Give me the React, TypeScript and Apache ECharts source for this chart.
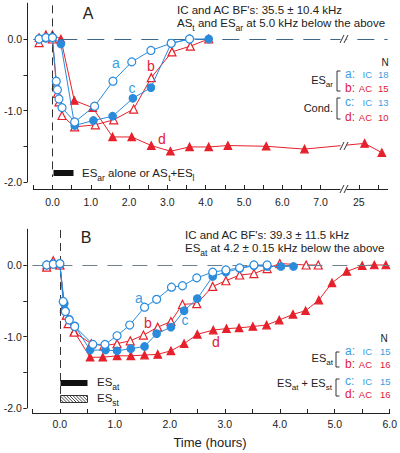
import React, { useEffect, useRef } from "react";
import * as echarts from "echarts";

const FONT = '"Liberation Sans", Arial, sans-serif';
const BLUE = "#2a8bdc";
const RED = "#e6212b";
const BLUE_T = "#3a9de2";
const RED_T = "#e0203a";
const INK = "#222";

// ---------- Panel A (hours; values 25.x are after the axis break) ----------
const aA_t = [-0.35, -0.17, 0, 0.1, 0.13, 0.17, 0.25, 0.58, 1.1, 1.58, 2.07, 2.57, 3.1, 3.58];
const aA_v = [0, 0.02, 0.02, -0.59, -0.71, -0.84, -0.96, -1.16, -0.94, -0.59, -0.32, -0.16, -0.06, 0];
const bA_t = [-0.35, -0.17, 0, 0.1, 0.13, 0.17, 0.25, 0.58, 1.12, 1.6, 2.12, 2.58, 3.12, 3.6, 4.08];
const bA_v = [-0.05, 0.03, 0, -0.64, -0.76, -0.88, -1.07, -1.23, -1.2, -1.13, -0.98, -0.54, -0.18, -0.1, 0];
const cA_t = [-0.35, -0.17, 0, 0.22, 0.58, 1.07, 1.57, 2.1, 2.57, 3.1, 3.58, 4.08];
const cA_v = [0, 0.01, 0.02, -0.07, -1.21, -1.14, -1.08, -0.83, -0.68, -0.06, 0, 0];
const dA_t = [-0.35, -0.17, 0, 0.22, 0.57, 1.05, 1.57, 2.07, 2.58, 3.08, 3.58, 4.08, 4.58, 5.58, 6.58, 25.3, 26.2];
const dA_v = [0.02, 0.06, 0.06, 0, -0.86, -0.96, -1.37, -1.37, -1.49, -1.57, -1.51, -1.51, -1.49, -1.5, -1.54, -1.46, -1.59];

// ---------- Panel B ----------
const aB_t = [-0.24, -0.12, 0, 0.06, 0.1, 0.17, 0.27, 0.6, 0.82, 1.04, 1.27, 1.54, 1.76, 2.03, 2.23, 2.49, 2.78, 3.02, 3.27, 3.53, 3.77];
const aB_v = [0, 0.01, 0.02, -0.51, -0.65, -0.77, -0.86, -1.11, -1.11, -0.99, -0.84, -0.59, -0.48, -0.31, -0.29, -0.18, -0.1, -0.07, -0.04, 0, 0];
const bB_t = [-0.24, -0.12, 0, 0.08, 0.12, 0.15, 0.26, 0.57, 0.8, 1.04, 1.28, 1.52, 1.78, 2.02, 2.23, 2.49, 2.78, 3.02, 3.27, 3.53, 3.77, 4.0, 4.48, 4.7];
const bB_v = [-0.03, 0.06, 0, -0.6, -0.7, -0.82, -0.94, -1.1, -1.13, -1.1, -1.06, -0.98, -0.87, -0.79, -0.55, -0.54, -0.3, -0.22, -0.14, -0.12, -0.05, 0.02, 0, 0];
const cB_t = [-0.24, -0.12, 0, 0.08, 0.1, 0.17, 0.27, 0.55, 0.83, 1.04, 1.29, 1.54, 1.76, 2.02, 2.26, 2.5, 2.78, 3.02, 3.27, 3.53, 3.77, 4.02, 4.25];
const cB_v = [0, 0.02, 0.01, -0.54, -0.64, -0.76, -0.85, -1.19, -1.19, -1.2, -1.17, -1.14, -0.96, -0.87, -0.64, -0.47, -0.16, -0.1, -0.05, -0.01, -0.02, -0.02, -0.02];
const dB_t = [-0.24, -0.12, 0, 0.08, 0.12, 0.17, 0.26, 0.55, 0.78, 1.04, 1.29, 1.54, 1.78, 2.02, 2.26, 2.5, 2.79, 3.03, 3.26, 3.51, 3.76, 3.99, 4.24, 4.47, 4.71, 4.95, 5.22, 5.5, 5.72, 5.93];
const dB_v = [0, 0.04, 0, -0.58, -0.7, -0.82, -0.93, -1.29, -1.29, -1.27, -1.27, -1.26, -1.25, -1.2, -1.1, -0.97, -0.91, -0.89, -0.88, -0.86, -0.84, -0.77, -0.69, -0.64, -0.49, -0.25, -0.09, -0.01, 0, 0];

// ---------- ticks ----------
const xTicksA = [-0.5, 0, 0.5, 1, 1.5, 2, 2.5, 3, 3.5, 4, 4.5, 5, 5.5, 6, 6.5, 7, 25, 26];
const xLabelsA = [0, 1, 2, 3, 4, 5, 6, 7, 25];
const xTicksB = [-0.5, 0, 0.5, 1, 1.5, 2, 2.5, 3, 3.5, 4, 4.5, 5, 5.5, 6];
const xLabelsB = [0, 1, 2, 3, 4, 5, 6];
const yTicks = [-2, -1.5, -1, -0.5, 0];
const yLabels = [-2, -1, 0];

// broken time axis of panel A: after 7.5 h the axis jumps to 25 h
const tA = (t: number) => (t <= 7.5 ? t : 8 + (t - 25) * 0.5);
const idt = (t: number) => t;
const zip = (ts: number[], vs: number[], f: (t: number) => number) => ts.map((t, i) => [f(t), vs[i]]);

type Part = [string, boolean];
let _ctx: CanvasRenderingContext2D | null = null;
function tw(s: string, size: number): number {
  if (!_ctx) _ctx = document.createElement("canvas").getContext("2d");
  if (!_ctx) return s.length * size * 0.55;
  _ctx.font = `${size}px ${FONT}`;
  return _ctx.measureText(s).width;
}
function run(x: number, y: number, parts: Part[], size: number, color: string, align = "left", subSize?: number): any[] {
  const ss = subSize ?? Math.round(size * 0.74 * 10) / 10;
  const widths = parts.map(([s, sub]) => tw(s, sub ? ss : size));
  const total = widths.reduce((a, b) => a + b, 0);
  let cx = align === "right" ? x - total : align === "center" ? x - total / 2 : x;
  const out: any[] = [];
  parts.forEach(([s, sub], i) => {
    const fs = sub ? ss : size;
    const lead = s.length - s.trimStart().length;
    const off = lead ? tw(" ".repeat(lead), fs) : 0;
    out.push({
      type: "text",
      x: cx + off,
      y: sub ? y + size * 0.4 : y,
      z: 50,
      silent: true,
      style: { text: s.trim(), fontSize: fs, fontFamily: FONT, fill: color, align: "left", verticalAlign: "middle" },
    });
    cx += widths[i];
  });
  return out;
}
const bracket = (x: number, y1: number, y2: number) => ({
  type: "polyline",
  z: 50,
  silent: true,
  shape: { points: [[x + 3.5, y1], [x, y1], [x, y2], [x + 3.5, y2]] },
  style: { stroke: "#333", lineWidth: 1, fill: null },
});
function legendRow(y: number, letter: string, src: string, n: string, color: string, srcRight: number, nx: number) {
  return [
    ...run(345, y, [[letter + ":", false]], 12, color),
    ...run(srcRight, y, [[src, false]], 9.5, color, "right"),
    ...run(nx, y, [[n, false]], 9.5, color),
  ];
}
function breakMark(x: number, y: number) {
  return [
    { type: "rect", z: 60, silent: true, shape: { x: x - 2.5, y: y - 2, width: 6, height: 4 }, style: { fill: "#fff" } },
    { type: "line", z: 61, silent: true, shape: { x1: x - 3, y1: y + 4, x2: x + 1, y2: y - 4 }, style: { stroke: "#333", lineWidth: 1 } },
    { type: "line", z: 61, silent: true, shape: { x1: x + 1, y1: y + 4, x2: x + 5, y2: y - 4 }, style: { stroke: "#333", lineWidth: 1 } },
  ];
}
function hatch(x0: number, y0: number, w: number, h: number) {
  const els: any[] = [
    { type: "rect", z: 50, silent: true, shape: { x: x0, y: y0, width: w, height: h }, style: { fill: "#fff", stroke: "#333", lineWidth: 1 } },
  ];
  for (let k = -h; k < w; k += 3.2) {
    const s0 = Math.max(0, -k);
    const s1 = Math.min(h, w - k);
    if (s1 <= s0) continue;
    els.push({
      type: "line", z: 51, silent: true,
      shape: { x1: x0 + k + s0, y1: y0 + s0, x2: x0 + k + s1, y2: y0 + s1 },
      style: { stroke: "#333", lineWidth: 0.9 },
    });
  }
  return els;
}

function series(ts: number[], vs: number[], gi: number, color: string, symbol: string, filled: boolean, size: number, f: (t: number) => number, z: number) {
  return {
    type: "line",
    xAxisIndex: gi,
    yAxisIndex: gi,
    data: zip(ts, vs, f),
    symbol,
    symbolSize: size,
    showSymbol: true,
    silent: true,
    z,
    lineStyle: { color, width: 1 },
    itemStyle: { color: filled ? color : "#fff", borderColor: color, borderWidth: 1.2 },
  };
}
const refLines = (hColor: string, hDash: number[], vTop: number, vBottom: number) => ({
  symbol: "none",
  silent: true,
  label: { show: false },
  animation: false,
  data: [
    { yAxis: 0, lineStyle: { color: hColor, type: hDash, width: 1 } },
    [
      { coord: [0, vTop], lineStyle: { color: "#333", type: [8, 5], width: 1 } },
      { coord: [0, vBottom] },
    ],
  ],
});

export default function App() {
  const ref = useRef<HTMLDivElement>(null);
  useEffect(() => {
    if (!ref.current) return;
    const chart = echarts.init(ref.current, null, { renderer: "svg" });
    const axisFont = { fontSize: 10.5, fontFamily: FONT, color: INK };
    const xAxis = (gi: number, min: number, max: number, ticks: number[], labels: number[], f: (t: number) => number, offset: number, margin: number) => ({
      type: "value",
      gridIndex: gi,
      min,
      max,
      interval: 0.5,
      offset,
      axisLine: { show: true, onZero: false, lineStyle: { color: INK, width: 1 } },
      axisTick: { show: true, inside: true, length: 4, customValues: ticks.map(f), lineStyle: { color: INK } },
      axisLabel: {
        ...axisFont,
        margin,
        customValues: labels.map(f),
        formatter: (v: number) => {
          const i = labels.findIndex((l) => Math.abs(f(l) - v) < 1e-6);
          const l = i >= 0 ? labels[i] : v;
          return l >= 10 ? String(l) : l.toFixed(1);
        },
      },
      splitLine: { show: false },
    });
    const yAxis = (gi: number, offset: number) => ({
      type: "value",
      gridIndex: gi,
      min: -2,
      max: 0.5,
      interval: 0.5,
      offset,
      axisLine: { show: true, onZero: false, lineStyle: { color: INK, width: 1 } },
      axisTick: { show: true, inside: false, length: 3.5, customValues: yTicks, lineStyle: { color: INK } },
      axisLabel: { ...axisFont, margin: 5, customValues: yLabels, formatter: (v: number) => v.toFixed(1) },
      splitLine: { show: false },
    });

    const sA = [
      { ...series(dA_t, dA_v, 0, RED, "triangle", true, 7.5, tA, 3), markLine: refLines("#3d6585", [17, 10], 0.47, -1.93) },
      series(bA_t, bA_v, 0, RED, "triangle", false, 8, tA, 4),
      series(cA_t, cA_v, 0, BLUE, "circle", true, 7.5, tA, 5),
      series(aA_t, aA_v, 0, BLUE, "circle", false, 8, tA, 6),
    ];
    const sB = [
      { ...series(dB_t, dB_v, 1, RED, "triangle", true, 7.5, idt, 3), markLine: refLines("#6f7f8c", [15, 10], 0.49, -1.92) },
      series(bB_t, bB_v, 1, RED, "triangle", false, 8, idt, 4),
      series(cB_t, cB_v, 1, BLUE, "circle", true, 7.5, idt, 5),
      series(aB_t, aB_v, 1, BLUE, "circle", false, 8, idt, 6),
    ];

    const g: any[] = [
      // Panel A
      ...run(88, 13, [["A", false]], 16, INK, "center"),
      ...run(177, 10, [["IC and AC BF's: 35.5 ± 10.4 kHz", false]], 11.5, INK),
      ...run(177, 23, [["AS", false], ["t", true], [" and ES", false], ["ar", true], [" at 5.0 kHz below the above", false]], 11.5, INK),
      ...run(116, 63, [["a", false]], 14, BLUE_T, "center"),
      ...run(151, 66, [["b", false]], 14, RED_T, "center"),
      ...run(132, 88, [["c", false]], 14, BLUE_T, "center"),
      ...run(162, 139, [["d", false]], 14, RED_T, "center"),
      ...run(385, 62, [["N", false]], 10, INK, "center"),
      ...run(333, 80, [["ES", false], ["ar", true]], 11, INK, "right"),
      bracket(337, 71, 91),
      ...legendRow(74, "a", "IC", "18", BLUE_T, 372, 378),
      ...legendRow(88, "b", "AC", "15", RED_T, 372, 378),
      ...run(333, 108, [["Cond.", false]], 11, INK, "right"),
      bracket(337, 98, 119),
      ...legendRow(102, "c", "IC", "13", BLUE_T, 372, 378),
      ...legendRow(117, "d", "AC", "10", RED_T, 372, 378),
      { type: "rect", z: 50, silent: true, shape: { x: 53.5, y: 170, width: 20, height: 6 }, style: { fill: "#111" } },
      ...run(82, 173, [["ES", false], ["ar", true], [" alone or AS", false], ["t", true], ["+ES", false], ["l", true]], 11.5, INK),
      ...breakMark(343, 39),
      ...breakMark(343, 146),
      ...breakMark(343, 189),
      // Panel B
      ...run(86, 237, [["B", false]], 16, INK, "center"),
      ...run(185, 235, [["IC and AC BF's: 39.3 ± 11.5 kHz", false]], 11.5, INK),
      ...run(185, 248, [["ES", false], ["at", true], [" at 4.2 ± 0.15 kHz below the above", false]], 11.5, INK),
      ...run(139, 298, [["a", false]], 14, BLUE_T, "center"),
      ...run(148, 323, [["b", false]], 14, RED_T, "center"),
      ...run(185, 320, [["c", false]], 14, BLUE_T, "center"),
      ...run(216, 342, [["d", false]], 14, RED_T, "center"),
      ...run(384, 338, [["N", false]], 10, INK, "center"),
      ...run(333, 358, [["ES", false], ["at", true]], 11, INK, "right"),
      bracket(336, 352, 367),
      ...legendRow(351, "a", "IC", "15", BLUE_T, 372, 380),
      ...legendRow(364, "b", "AC", "16", RED_T, 372, 380),
      ...run(332, 383, [["ES", false], ["at", true], [" + ES", false], ["st", true]], 11, INK, "right"),
      bracket(336, 379, 396),
      ...legendRow(381, "c", "IC", "15", BLUE_T, 372, 380),
      ...legendRow(394, "d", "AC", "16", RED_T, 372, 380),
      { type: "rect", z: 50, silent: true, shape: { x: 60.5, y: 380, width: 27, height: 6 }, style: { fill: "#111" } },
      ...run(97, 382, [["ES", false], ["at", true]], 11.5, INK),
      ...hatch(60.5, 395.5, 27, 7),
      ...run(97, 398, [["ES", false], ["st", true]], 11.5, INK),
      ...run(210, 442, [["Time (hours)", false]], 13, INK, "center"),
    ];

    chart.setOption({
      animation: false,
      backgroundColor: "#fff",
      textStyle: { fontFamily: FONT },
      grid: [
        { left: 33.3, top: 3.25, width: 354.3, height: 178.75, containLabel: false },
        { left: 32.4, top: 229.25, width: 358.8, height: 178.75, containLabel: false },
      ],
      xAxis: [
        xAxis(0, -0.5, 8.75, xTicksA, xLabelsA, tA, 7, 7),
        xAxis(1, -0.5, 6, xTicksB, xLabelsB, idt, 5, 5),
      ],
      yAxis: [yAxis(0, 6.3), yAxis(1, 5.6)],
      series: [...sA, ...sB],
      graphic: { elements: g },
    });
    return () => chart.dispose();
  }, []);
  return <div ref={ref} style={{ position: "fixed", left: 0, top: 0, width: 400, height: 453, background: "#fff" }} />;
}
